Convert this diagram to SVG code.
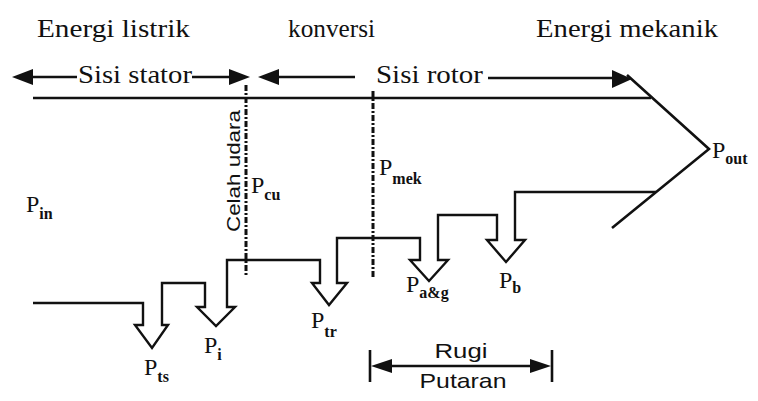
<svg xmlns="http://www.w3.org/2000/svg" width="758" height="401" viewBox="0 0 758 401">
<style>
.serif{font-family:'Liberation Serif','Times New Roman',serif;fill:#111}
.sans{font-family:'Liberation Sans',Arial,sans-serif;fill:#111}
.title{font-size:26px}
.side{font-size:25px}
.p{font-size:24px}
.sub{font-size:16px;font-weight:bold}
.ln{stroke:#111;stroke-width:2.6;fill:none}
.band{stroke:#111;stroke-width:2.4;fill:none;stroke-linejoin:miter}
.dd{stroke:#111;stroke-width:3;fill:none;stroke-dasharray:6 2 2 2}
.head{fill:#111;stroke:none}
</style>
<rect width="758" height="401" fill="#fff"/>
<g id="titles">
<text class="serif title" x="37" y="37" textLength="153" lengthAdjust="spacingAndGlyphs">Energi listrik</text>
<text class="serif title" x="288" y="37" textLength="87" lengthAdjust="spacingAndGlyphs">konversi</text>
<text class="serif title" x="536" y="37" textLength="182" lengthAdjust="spacingAndGlyphs">Energi mekanik</text>
</g>
<g id="sisi-stator">
<text class="serif side" x="78" y="83" textLength="114" lengthAdjust="spacingAndGlyphs">Sisi stator</text>
</g>
<g id="sisi-rotor">
<text class="serif side" x="376" y="83" textLength="107" lengthAdjust="spacingAndGlyphs">Sisi rotor</text>
</g>
<g id="celah-udara">
<text class="sans" font-size="19" transform="translate(240,232) rotate(-90)" textLength="122" lengthAdjust="spacingAndGlyphs">Celah udara</text>
</g>
<g id="p-in"><text class="serif p" x="26" y="212">P<tspan class="sub" dy="7">in</tspan></text></g>
<g id="p-cu"><text class="serif p" x="251" y="193">P<tspan class="sub" dy="7">cu</tspan></text></g>
<g id="p-mek"><text class="serif p" x="379" y="175">P<tspan class="sub" dy="9">mek</tspan></text></g>
<g id="p-out"><text class="serif p" x="712" y="158">P<tspan class="sub" dy="6">out</tspan></text></g>
<g id="p-ts"><text class="serif p" x="144" y="375">P<tspan class="sub" dy="7">ts</tspan></text></g>
<g id="p-i"><text class="serif p" x="204" y="353">P<tspan class="sub" dy="7">i</tspan></text></g>
<g id="p-tr"><text class="serif p" x="311" y="328">P<tspan class="sub" dy="9">tr</tspan></text></g>
<g id="p-ag"><text class="serif p" x="406" y="292">P<tspan class="sub" dy="6">a&amp;g</tspan></text></g>
<g id="p-b"><text class="serif p" x="499" y="288">P<tspan class="sub" dy="5">b</tspan></text></g>
<g id="rugi-putaran">
<text class="sans" font-size="21" x="461" y="358" text-anchor="middle" textLength="53" lengthAdjust="spacingAndGlyphs">Rugi</text>
<text class="sans" font-size="21" x="463" y="388" text-anchor="middle" textLength="87" lengthAdjust="spacingAndGlyphs">Putaran</text>
</g>
<g id="connectors">
<line class="ln" x1="30" y1="77" x2="77" y2="77"/>
<polygon class="head" points="12,77 33,69 33,85"/>
<line class="ln" x1="192" y1="77" x2="232" y2="77"/>
<polygon class="head" points="250,77 229,69 229,85"/>
<polygon class="head" points="258,77 279,69 279,85"/>
<line class="ln" x1="276" y1="77" x2="355" y2="77"/>
<line class="ln" x1="488" y1="78" x2="614" y2="78"/>
<polygon class="head" points="632,79 612,70 612,88"/>
<line class="ln" x1="33" y1="98" x2="651" y2="98"/>
<polyline class="ln" stroke-width="3" points="627,75 709,149 612,228"/>
<line class="dd" x1="246" y1="85" x2="246" y2="276"/>
<line class="dd" x1="373" y1="91" x2="373" y2="278"/>
<path class="band" d="M33,303 H143 V325 H135 L152,348 L168,325 H162 V283 H205 V307 H197 L216,326 L235,307 H227 V260 H320 V283 H312 L329,305 L347,283 H337 V238 H420 V260 H410 L429,281 L448,260 H438 V215 H497 V240 H487 L506,262 L525,240 H515 V192 H656"/>
<line class="ln" x1="370" y1="350" x2="370" y2="382"/>
<line class="ln" x1="552" y1="350" x2="552" y2="382"/>
<line class="ln" x1="385" y1="366" x2="537" y2="366"/>
<polygon class="head" points="371,366 392,359 392,373"/>
<polygon class="head" points="551,366 530,359 530,373"/>
</g>
</svg>
